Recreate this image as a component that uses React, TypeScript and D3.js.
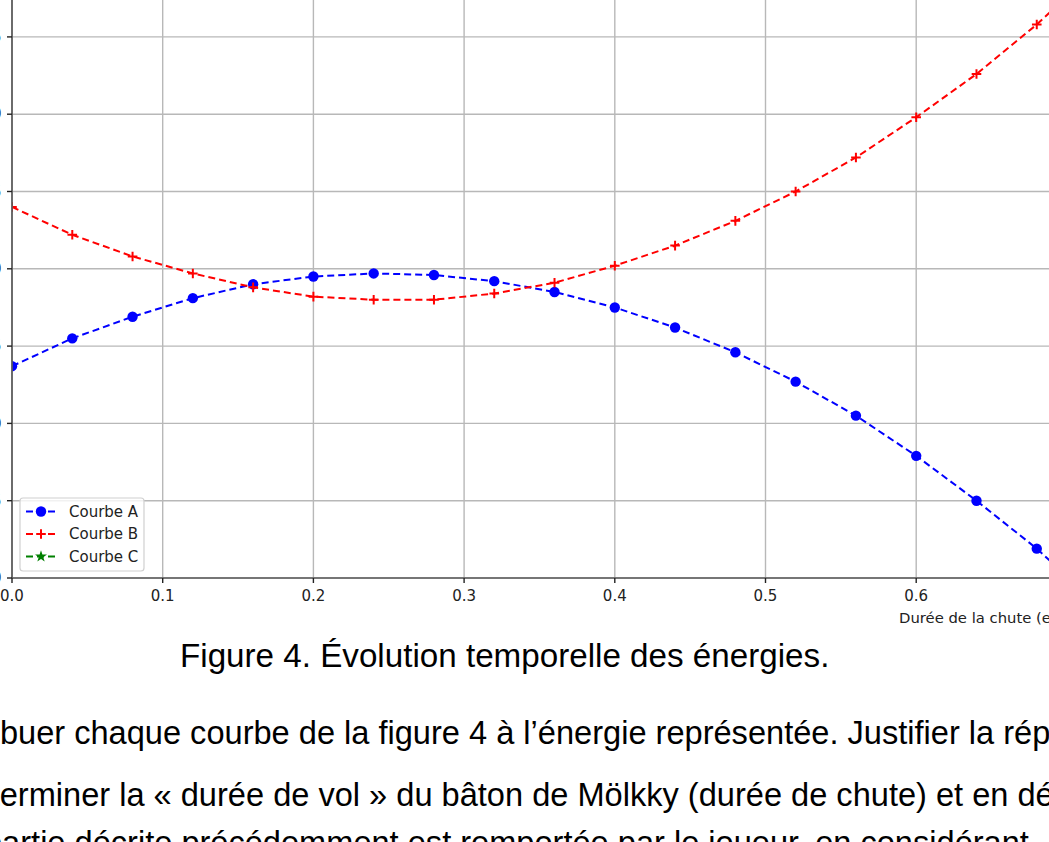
import * as d3 from "d3";
import * as React from "react";

// durée de la chute (s)
const times = [0, 0.04, 0.08, 0.12, 0.16, 0.2, 0.24, 0.28, 0.32, 0.36, 0.4, 0.44, 0.48, 0.52, 0.56, 0.6, 0.64, 0.68, 0.72];
const courbeA = [1.37, 1.55, 1.69, 1.81, 1.9, 1.95, 1.97, 1.96, 1.92, 1.85, 1.75, 1.62, 1.46, 1.27, 1.05, 0.79, 0.5, 0.19, -0.17];
const courbeB = [2.4, 2.22, 2.08, 1.97, 1.88, 1.82, 1.8, 1.8, 1.84, 1.91, 2.02, 2.15, 2.31, 2.5, 2.72, 2.98, 3.26, 3.58, 3.94];
// courbe C sits just above the visible area of the figure
const courbeC = [3.82, 3.82, 3.82, 3.83, 3.83, 3.82, 3.82, 3.81, 3.81, 3.81, 3.82, 3.82, 3.82, 3.82, 3.82, 3.82, 3.81, 3.82, 3.82];

const xTicks = [0, 0.1, 0.2, 0.3, 0.4, 0.5, 0.6, 0.7];
const yTicks = [0, 0.5, 1.0, 1.5, 2.0, 2.5, 3.0, 3.5, 4.0];
const legendLabels = ["Courbe A", "Courbe B", "Courbe C"];

const caption = "Figure 4. Évolution temporelle des énergies.";
const bodyLines = [
    "Attribuer chaque courbe de la figure 4 à l’énergie représentée. Justifier la réponse.",
    "Déterminer la « durée de vol » du bâton de Mölkky (durée de chute) et en déduire si la",
    "partie décrite précédemment est remportée par le joueur, en considérant",
];

const W = 1049;
const H = 842;
const left = 12;
const bottom = 578;

const mplFont = "'DejaVu Sans', sans-serif";
const docFont = "'Liberation Sans', Arial, sans-serif";

function Marker(props: { kind: string; x: number; y: number; color: string }): JSX.Element {
    const { kind, x, y, color } = props;
    if (kind === "o") {
        return <circle cx={x} cy={y} r={5.2} fill={color} />;
    }
    if (kind === "+") {
        return <path d={`M${x - 4.8},${y}H${x + 4.8}M${x},${y - 4.8}V${y + 4.8}`} stroke={color} strokeWidth={2} />;
    }
    const star = d3.symbol().type(d3.symbolStar).size(44)();
    return <path d={star ?? ""} transform={`translate(${x},${y})`} fill={color} />;
}

export default function App(): JSX.Element {
    const x = d3.scaleLinear().domain([0, 0.7]).range([left, left + 0.7 * 1507]);
    const y = d3.scaleLinear().domain([0, 3.5]).range([bottom, bottom - 3.5 * 154.6]);

    const series = [
        { values: courbeA, color: "#0000ff", marker: "o" },
        { values: courbeB, color: "#ff0000", marker: "+" },
        { values: courbeC, color: "#008000", marker: "*" },
    ];

    const line = d3.line<[number, number]>()
        .x(d => x(d[0]))
        .y(d => y(d[1]));

    return (
        <svg
            width={W}
            height={H}
            style={{ position: "absolute", left: 0, top: 0, background: "#fff" }}
        >
            <defs>
                <clipPath id="plot">
                    <rect x={left} y={-200} width={2000} height={bottom + 200} />
                </clipPath>
            </defs>

            {/* grid */}
            <g stroke="#b8b8b8" strokeWidth={1.4}>
                {xTicks.map(t => (
                    <line key={"gx" + t} x1={x(t)} x2={x(t)} y1={-10} y2={bottom} />
                ))}
                {yTicks.map(t => (
                    <line key={"gy" + t} x1={left} x2={W + 10} y1={y(t)} y2={y(t)} />
                ))}
            </g>

            {/* courbes */}
            <g clipPath="url(#plot)">
                {series.map(s => {
                    const pts = times.map((t, i) => [t, s.values[i]] as [number, number]);
                    return (
                        <g key={s.color}>
                            <path d={line(pts) ?? ""} fill="none" stroke={s.color} strokeWidth={2} strokeDasharray="7,4" />
                            {pts.map(p => (
                                <Marker key={p[0]} kind={s.marker} x={x(p[0])} y={y(p[1])} color={s.color} />
                            ))}
                        </g>
                    );
                })}
            </g>

            {/* axes */}
            <line x1={left} x2={left} y1={-10} y2={bottom} stroke="#5a5a5a" strokeWidth={1.7} />
            <line x1={left} x2={W + 10} y1={bottom} y2={bottom} stroke="#5a5a5a" strokeWidth={1.7} />
            {yTicks.map(t => (
                <g key={"ty" + t}>
                    <line x1={left - 5} x2={left} y1={y(t)} y2={y(t)} stroke="#222" strokeWidth={1.4} />
                    <text x={1.5} y={y(t)} dy="0.35em" textAnchor="end" fontFamily={mplFont} fontSize={15} fill="#222">
                        {t.toFixed(1)}
                    </text>
                </g>
            ))}
            {xTicks.map(t => (
                <g key={"tx" + t}>
                    <line x1={x(t)} x2={x(t)} y1={bottom} y2={bottom + 5} stroke="#222" strokeWidth={1.4} />
                    <text x={x(t)} y={601} textAnchor="middle" fontFamily={mplFont} fontSize={15} fill="#222">
                        {t.toFixed(1)}
                    </text>
                </g>
            ))}
            <text x={899} y={623} fontFamily={mplFont} fontSize={14.8} fill="#222">
                Durée de la chute (en s)
            </text>

            {/* légende */}
            <g>
                <rect x={20} y={498} width={124} height={73} rx={3} fill="#fff" fillOpacity={0.8} stroke="#d0d0d0" strokeWidth={1.2} />
                {series.map((s, i) => {
                    const cy = 511.5 + i * 22.5;
                    return (
                        <g key={"lg" + i}>
                            <line x1={26} x2={56} y1={cy} y2={cy} stroke={s.color} strokeWidth={2} strokeDasharray="7,4" />
                            <Marker kind={s.marker} x={41} y={cy} color={s.color} />
                            <text x={69} y={cy} dy="0.36em" fontFamily={mplFont} fontSize={15} fill="#222">
                                {legendLabels[i]}
                            </text>
                        </g>
                    );
                })}
            </g>

            {/* texte du document */}
            <text x={180} y={667} fontFamily={docFont} fontSize={33.2} fill="#000">
                {caption}
            </text>
            <text x={-58} y={744} fontFamily={docFont} fontSize={32.6} fill="#000">
                {bodyLines[0]}
            </text>
            <text x={-51} y={806} fontFamily={docFont} fontSize={32.6} fill="#000">
                {bodyLines[1]}
            </text>
            <text x={-16} y={854} fontFamily={docFont} fontSize={32.6} fill="#000">
                {bodyLines[2]}
            </text>
        </svg>
    );
}
